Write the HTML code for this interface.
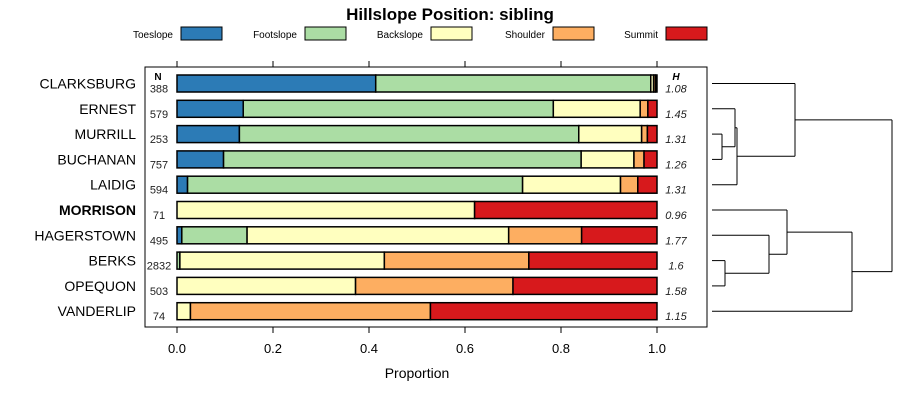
<!DOCTYPE html>
<html><head><meta charset="utf-8"><style>
body{margin:0;background:#fff;}
svg{display:block;font-family:"Liberation Sans",Arial,sans-serif;}
</style></head><body>
<svg id="c" width="900" height="400">
<text x="450" y="20" text-anchor="middle" font-size="17" font-weight="bold">Hillslope Position: sibling</text>
<g id="legend"></g>
<rect x="145" y="67" width="562" height="260" fill="none" stroke="#000" stroke-width="1"/>
<g id="bars"></g>
<g id="axis"></g>
<text x="417" y="378" text-anchor="middle" font-size="14">Proportion</text>
<text x="158" y="80" text-anchor="middle" font-size="10" font-weight="bold">N</text>
<text x="676" y="80" text-anchor="middle" font-size="10" font-weight="bold" font-style="italic">H</text>
<g id="dendro" stroke="#000" fill="none" stroke-width="1"></g>
</svg>
<script>
const categories=["CLARKSBURG","ERNEST","MURRILL","BUCHANAN","LAIDIG","MORRISON","HAGERSTOWN","BERKS","OPEQUON","VANDERLIP"];
const seriesNames=["Toeslope","Footslope","Backslope","Shoulder","Summit"];
const toeslope=[0.414,0.138,0.130,0.097,0.022,0,0.010,0,0,0];
const footslope=[0.573,0.646,0.707,0.745,0.698,0,0.136,0.006,0,0];
const backslope=[0.006,0.181,0.131,0.110,0.204,0.620,0.545,0.426,0.372,0.028];
const shoulder=[0.004,0.016,0.012,0.021,0.036,0,0.152,0.301,0.328,0.500];
const summit=[0.003,0.019,0.020,0.027,0.040,0.380,0.157,0.267,0.300,0.472];
const nValues=["388","579","253","757","594","71","495","2832","503","74"];
const hValues=["1.08","1.45","1.31","1.26","1.31","0.96","1.77","1.6","1.58","1.15"];
const ticks=[0,0.2,0.4,0.6,0.8,1.0];
const tickLabels=["0.0","0.2","0.4","0.6","0.8","1.0"];
const colors=["#2c7bb6","#abdda4","#ffffbf","#fdae61","#d7191c"];
const NS="http://www.w3.org/2000/svg";
function mk(tag,attrs,parent,text){const e=document.createElementNS(NS,tag);for(const k in attrs)e.setAttribute(k,attrs[k]);if(text!==undefined)e.textContent=text;parent.appendChild(e);return e;}
const x=v=>177+v*480;
const y=i=>83.5+i*25.3;
const series=[toeslope,footslope,backslope,shoulder,summit];
const bars=document.getElementById('bars');
categories.forEach((c,i)=>{
  const lab=mk('text',{x:136,y:y(i)+5,'text-anchor':'end','font-size':14,'font-weight':c==="MORRISON"?'bold':'normal'},bars,c);
  
  
  let acc=0;
  series.forEach((s,k)=>{
    const v=s[i];
    if(v>0){
      const r=mk('rect',{x:x(acc),y:y(i)-8.5,width:v*480,height:17,fill:colors[k],stroke:'#000','stroke-width':1.5},bars);
      
      
    }
    acc+=v;
  });
  const n=mk('text',{x:159,y:y(i)+9,'text-anchor':'middle','font-size':11,fill:'#222'},bars,nValues[i]);
  
  
  const h=mk('text',{x:676,y:y(i)+9,'text-anchor':'middle','font-size':11,'font-style':'italic',fill:'#222'},bars,hValues[i]);
  
  
});
const ax=document.getElementById('axis');
ticks.forEach((t,i)=>{
  mk('line',{x1:x(t),x2:x(t),y1:327,y2:333,stroke:'#000'},ax);
  mk('line',{x1:x(t),x2:x(t),y1:61,y2:67,stroke:'#000'},ax);
  const tl=mk('text',{x:x(t),y:353,'text-anchor':'middle','font-size':13},ax,tickLabels[i]);
  
  
});
const lg=document.getElementById('legend');
const legX=[181,305,431,553,666];
seriesNames.forEach((s,k)=>{
  const t=mk('text',{x:legX[k]-8,y:38,'text-anchor':'end','font-size':10},lg,s);
  
  
  const r=mk('rect',{x:legX[k],y:27,width:41,height:13,fill:colors[k],stroke:'#000'},lg);
  
  
});
const d=document.getElementById('dendro');
const L=712;
function seg(x1,y1,x2,y2){mk('line',{x1,y1,x2,y2},d);}
function node(xn,ya,xa,yb,xb){seg(xa,ya,xn,ya);seg(xb,yb,xn,yb);seg(xn,ya,xn,yb);return (ya+yb)/2;}
const n1=node(722,y(2),L,y(3),L);
const n2=node(735,y(1),L,n1,722);
const n3=node(737,n2,735,y(4),L);
const n4=node(795,y(0),L,n3,737);
const b1=node(725,y(7),L,y(8),L);
const b2=node(769,y(6),L,b1,725);
const b3=node(787,y(5),L,b2,769);
const b4=node(852,b3,787,y(9),L);
node(892,n4,795,b4,852);
</script>
</body></html>
